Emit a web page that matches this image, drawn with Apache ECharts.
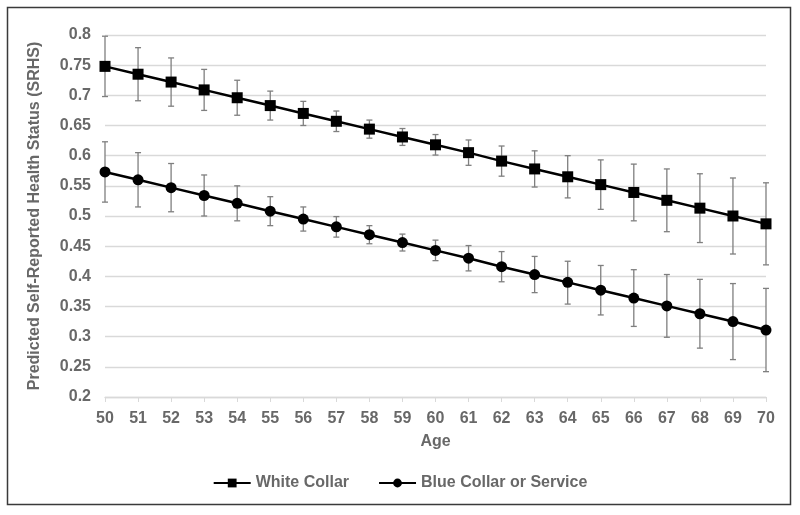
<!DOCTYPE html>
<html>
<head>
<meta charset="utf-8">
<script src="https://cdn.jsdelivr.net/npm/echarts@6/dist/echarts.min.js"></script>
<style>
  html, body { margin: 0; padding: 0; background: #fff; }
  #srhs_chart { width: 800px; height: 515px; }
</style>
</head>
<body>
<div id="srhs_chart"></div>
<script>
// ages on the x axis
var ages = ["50","51","52","53","54","55","56","57","58","59","60","61","62","63","64","65","66","67","68","69","70"];

// white collar: predicted value and error bar bounds
var whiteVal  = [0.748,0.735,0.722,0.709,0.696,0.683,0.670,0.657,0.644,0.631,0.618,0.605,0.591,0.578,0.565,0.552,0.539,0.526,0.513,0.500,0.487];
var whiteLow  = [0.698,0.691,0.682,0.675,0.667,0.659,0.650,0.640,0.629,0.617,0.601,0.584,0.566,0.548,0.530,0.511,0.492,0.474,0.456,0.437,0.419];
var whiteHigh = [0.798,0.779,0.762,0.743,0.725,0.707,0.690,0.674,0.659,0.645,0.635,0.626,0.616,0.608,0.600,0.593,0.586,0.578,0.570,0.563,0.555];

// blue collar or service
var blueVal  = [0.573,0.560,0.547,0.534,0.521,0.508,0.495,0.482,0.469,0.456,0.443,0.430,0.416,0.403,0.390,0.377,0.364,0.351,0.338,0.325,0.311];
var blueLow  = [0.523,0.515,0.507,0.500,0.492,0.484,0.475,0.465,0.454,0.442,0.426,0.409,0.391,0.373,0.354,0.336,0.317,0.299,0.281,0.262,0.242];
var blueHigh = [0.623,0.605,0.587,0.568,0.550,0.532,0.515,0.499,0.484,0.470,0.460,0.451,0.441,0.433,0.425,0.418,0.411,0.403,0.395,0.388,0.380];

var fontName = "Liberation Sans";
var gray = "#686868";

function errData(low, high) {
  return ages.map(function (a, i) { return [i, low[i], high[i]]; });
}

// draw one error bar with caps
function renderErr(params, api) {
  var x = api.value(0);
  var top = api.coord([x, api.value(2)]);
  var bot = api.coord([x, api.value(1)]);
  var cap = 3;
  var style = { stroke: "#7f7f7f", lineWidth: 1.3 };
  return {
    type: "group",
    children: [
      { type: "line", shape: { x1: top[0], y1: top[1], x2: bot[0], y2: bot[1] }, style: style },
      { type: "line", shape: { x1: top[0] - cap, y1: top[1], x2: top[0] + cap, y2: top[1] }, style: style },
      { type: "line", shape: { x1: bot[0] - cap, y1: bot[1], x2: bot[0] + cap, y2: bot[1] }, style: style }
    ]
  };
}

var srhs_chart = echarts.init(document.getElementById("srhs_chart"));
var option = {
  animation: false,
  backgroundColor: "#fff",
  textStyle: { fontFamily: fontName },
  graphic: [
    {
      type: "rect",
      shape: { x: 7.5, y: 7.5, width: 783, height: 497 },
      style: { fill: "none", stroke: "#3a3a3a", lineWidth: 1.5 },
      z: 0
    }
  ],
  grid: { left: 105, right: 34, top: 35, bottom: 118, containLabel: false },
  legend: {
    top: 470,
    left: "center",
    itemWidth: 37,
    itemHeight: 11,
    itemGap: 29,
    textStyle: { color: gray, fontSize: 16, fontWeight: "bold", fontFamily: fontName },
    data: ["White Collar", "Blue Collar or Service"]
  },
  xAxis: {
    type: "category",
    data: ages,
    boundaryGap: false,
    name: "Age",
    nameLocation: "middle",
    nameGap: 37,
    nameTextStyle: { color: gray, fontSize: 16, fontWeight: "bold" },
    axisLine: { lineStyle: { color: "#d9d9d9", width: 1.3 } },
    axisTick: { show: true, alignWithLabel: true, length: 5, lineStyle: { color: "#d9d9d9" } },
    axisLabel: { color: gray, fontSize: 16, fontWeight: "bold", margin: 14, interval: 0 }
  },
  yAxis: {
    type: "value",
    min: 0.2,
    max: 0.8,
    interval: 0.05,
    name: "Predicted Self-Reported Health Status (SRHS)",
    nameLocation: "middle",
    nameGap: 62,
    nameTextStyle: { color: gray, fontSize: 16, fontWeight: "bold" },
    axisLine: { show: false },
    axisTick: { show: false },
    splitLine: { lineStyle: { color: "#d9d9d9", width: 1.3 } },
    axisLabel: { color: gray, fontSize: 16, fontWeight: "bold", margin: 14 }
  },
  series: [
    {
      name: "wcErr",
      type: "custom",
      renderItem: renderErr,
      data: errData(whiteLow, whiteHigh),
      z: 2
    },
    {
      name: "bcErr",
      type: "custom",
      renderItem: renderErr,
      data: errData(blueLow, blueHigh),
      z: 2
    },
    {
      name: "White Collar",
      type: "line",
      data: whiteVal,
      symbol: "rect",
      symbolSize: 11,
      showAllSymbol: true,
      itemStyle: { color: "#000" },
      lineStyle: { color: "#000", width: 2.5 },
      z: 3
    },
    {
      name: "Blue Collar or Service",
      type: "line",
      data: blueVal,
      symbol: "circle",
      symbolSize: 11,
      showAllSymbol: true,
      itemStyle: { color: "#000" },
      lineStyle: { color: "#000", width: 2.5 },
      z: 3
    }
  ]
};
srhs_chart.setOption(option);
</script>
</body>
</html>
